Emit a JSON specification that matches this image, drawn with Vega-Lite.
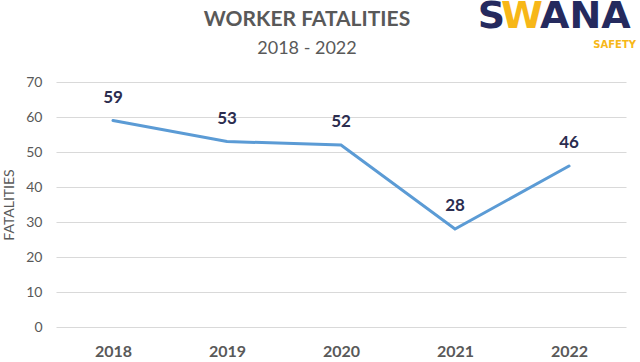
{
  "$schema": "https://vega.github.io/schema/vega-lite/v6.json",
  "width": 570,
  "height": 245,
  "autosize": {"type": "none"},
  "padding": {"left": 56, "top": 82, "right": 14, "bottom": 35},
  "background": "white",
  "config": {
    "view": {"stroke": null},
    "axisX": {"title": null, "labelAngle": 0, "labelFont": "Lato", "labelFontSize": 16, "labelFontWeight": "bold", "labelColor": "#595959", "labelPadding": 16, "ticks": false, "domain": false, "grid": false},
    "axisY": {"titleFont": "Lato", "titleFontSize": 14, "titleFontWeight": "normal", "titleColor": "#595959", "titlePadding": 9, "tickCount": 8, "labelFont": "Lato", "labelFontSize": 14, "labelColor": "#595959", "labelPadding": 14, "ticks": false, "domain": false, "grid": true, "gridColor": "#D9D9D9", "gridWidth": 1}
  },
  "datasets": {
    "main": [
      {"year": "2018", "fatalities": 59},
      {"year": "2019", "fatalities": 53},
      {"year": "2020", "fatalities": 52},
      {"year": "2021", "fatalities": 28},
      {"year": "2022", "fatalities": 46}
    ],
    "decor": [
      {"part": "heading"}
    ]
  },
  "layer": [
    {
      "data": {"name": "main"},
      "mark": {"type": "line", "color": "#5B9BD5", "strokeWidth": 3, "strokeCap": "round"},
      "encoding": {
        "x": {"field": "year", "type": "ordinal", "scale": {"type": "point", "padding": 0.5}, "axis": {"title": null}},
        "y": {"field": "fatalities", "type": "quantitative", "scale": {"domain": [0, 70], "nice": false}, "axis": {"title": "FATALITIES", "values": [0, 10, 20, 30, 40, 50, 60, 70]}}
      }
    },
    {
      "data": {"name": "main"},
      "mark": {"type": "text", "font": "Lato", "fontSize": 17, "fontWeight": "bold", "color": "#2B2D4F", "dy": -23, "baseline": "middle"},
      "encoding": {
        "x": {"field": "year", "type": "ordinal", "axis": {"title": null}},
        "y": {"field": "fatalities", "type": "quantitative", "axis": {"title": "FATALITIES", "values": [0, 10, 20, 30, 40, 50, 60, 70]}},
        "text": {"field": "fatalities", "type": "quantitative"}
      }
    },
    {
      "data": {"name": "decor"},
      "mark": {"type": "text", "font": "Lato", "fontSize": 21, "fontWeight": "bold", "fill": "#595959", "align": "center", "baseline": "alphabetic", "dx": -34},
      "encoding": {"x": {"datum": "2020", "axis": {"title": null}}, "y": {"datum": 86.0, "axis": {"title": "FATALITIES", "values": [0, 10, 20, 30, 40, 50, 60, 70]}}, "text": {"value": "WORKER FATALITIES"}}
    },
    {
      "data": {"name": "decor"},
      "mark": {"type": "text", "font": "Lato", "fontSize": 18, "fill": "#595959", "align": "center", "baseline": "alphabetic", "dx": -34},
      "encoding": {"x": {"datum": "2020", "axis": {"title": null}}, "y": {"datum": 78.0, "axis": {"title": "FATALITIES", "values": [0, 10, 20, 30, 40, 50, 60, 70]}}, "text": {"value": "2018 - 2022"}}
    },
    {
      "data": {"name": "decor"},
      "mark": {"type": "text", "font": "DejaVu Sans", "fontSize": 38, "fontWeight": "bold", "fill": "#252A5E", "align": "right", "baseline": "alphabetic", "dx": -64},
      "encoding": {"x": {"datum": "2022", "axis": {"title": null}}, "y": {"datum": 85.4, "axis": {"title": "FATALITIES", "values": [0, 10, 20, 30, 40, 50, 60, 70]}}, "text": {"value": "S"}}
    },
    {
      "data": {"name": "decor"},
      "mark": {"type": "text", "font": "DejaVu Sans", "fontSize": 38, "fontWeight": "bold", "fill": "#F7B718", "align": "center", "baseline": "alphabetic", "dx": -47},
      "encoding": {"x": {"datum": "2022", "axis": {"title": null}}, "y": {"datum": 85.4, "axis": {"title": "FATALITIES", "values": [0, 10, 20, 30, 40, 50, 60, 70]}}, "text": {"value": "W"}}
    },
    {
      "data": {"name": "decor"},
      "mark": {"type": "text", "font": "DejaVu Sans", "fontSize": 38, "fontWeight": "bold", "fill": "#252A5E", "align": "left", "baseline": "alphabetic", "dx": -29},
      "encoding": {"x": {"datum": "2022", "axis": {"title": null}}, "y": {"datum": 85.4, "axis": {"title": "FATALITIES", "values": [0, 10, 20, 30, 40, 50, 60, 70]}}, "text": {"value": "ANA"}}
    },
    {
      "data": {"name": "decor"},
      "mark": {"type": "text", "font": "DejaVu Sans", "fontSize": 10, "fontWeight": "bold", "fill": "#F7B718", "align": "right", "baseline": "alphabetic", "dx": 67},
      "encoding": {"x": {"datum": "2022", "axis": {"title": null}}, "y": {"datum": 79.7, "axis": {"title": "FATALITIES", "values": [0, 10, 20, 30, 40, 50, 60, 70]}}, "text": {"value": "SAFETY"}}
    }
  ]
}
